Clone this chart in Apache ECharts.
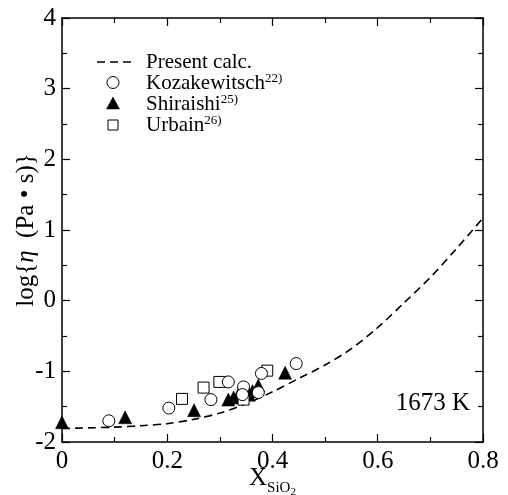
<!DOCTYPE html>
<html>
<head>
<meta charset="utf-8">
<script src="https://cdn.jsdelivr.net/npm/echarts@6/dist/echarts.min.js"></script>
<style>
  html, body { margin: 0; padding: 0; background: #fff; }
  #chart { width: 508px; height: 495px; }
</style>
</head>
<body>
<div id="chart"></div>
<script>
// Calculated viscosity curve, log(eta / Pa s) against SiO2 mole fraction
const calcX = [0, 0.05, 0.1, 0.15, 0.2, 0.25, 0.3, 0.35, 0.4, 0.45, 0.5, 0.55, 0.6, 0.65, 0.7, 0.75, 0.8];
const calcY = [-1.81, -1.80, -1.79, -1.77, -1.74, -1.68, -1.59, -1.46, -1.29, -1.10, -0.91, -0.68, -0.38, -0.03, 0.33, 0.74, 1.17];

// Measured data
const kozakX = [0.089, 0.203, 0.283, 0.316, 0.345, 0.343, 0.373, 0.379, 0.445];
const kozakY = [-1.70, -1.52, -1.40, -1.15, -1.22, -1.33, -1.30, -1.03, -0.89];

const shiraishiX = [0, 0.12, 0.251, 0.316, 0.326, 0.335, 0.345, 0.355, 0.362, 0.373, 0.424];
const shiraishiY = [-1.72, -1.65, -1.55, -1.40, -1.37, -1.33, -1.30, -1.33, -1.28, -1.20, -1.02];

const urbainX = [0.228, 0.269, 0.299, 0.345, 0.390];
const urbainY = [-1.39, -1.23, -1.15, -1.40, -0.99];

// Axis ticks
const xMin = 0, xMax = 0.8, xStep = 0.2;
const yMin = -2, yMax = 4, yStep = 1;

const serif = 'Liberation Serif';
const zip = (xs, ys) => xs.map((x, i) => [x, ys[i]]);

const chart = echarts.init(document.getElementById('chart'), null, { renderer: 'canvas' });

const axisCommon = {
  nameMoveOverlap: false,
  axisLine: { show: true, onZero: false, lineStyle: { color: '#000', width: 1.5 } },
  axisTick: { show: true, inside: true, length: 8, lineStyle: { color: '#000', width: 1.2 } },
  minorTick: { show: true, splitNumber: 2, length: 5, lineStyle: { color: '#000', width: 1.2 } },
  splitLine: { show: false },
  minorSplitLine: { show: false }
};

const supRich = { sup: { fontFamily: serif, fontSize: 13, fill: '#000', verticalAlign: 'top' } };

chart.setOption({
  animation: false,
  backgroundColor: '#fff',
  grid: { left: 62, right: 25, top: 18, bottom: 53, containLabel: false, outerBoundsMode: 'none' },
  xAxis: [
    Object.assign({
      type: 'value', min: xMin, max: xMax, interval: xStep,
      axisLabel: { color: '#000', fontFamily: serif, fontSize: 25, margin: 7 },
      name: '{x|X}{s|SiO}{t|2}',
      nameLocation: 'middle',
      nameGap: 24,
      nameTextStyle: {
        color: '#000', fontFamily: serif,
        rich: {
          x: { fontFamily: serif, fontSize: 25, color: '#000', verticalAlign: 'bottom', padding: [0, 0, 7, 0] },
          s: { fontFamily: serif, fontSize: 15, color: '#000', verticalAlign: 'bottom', padding: [0, 0, 2, 0] },
          t: { fontFamily: serif, fontSize: 11, color: '#000', verticalAlign: 'bottom', padding: [0, 0, 0, 0] }
        }
      }
    }, axisCommon),
    Object.assign({
      type: 'value', min: xMin, max: xMax, interval: xStep, position: 'top',
      axisLabel: { show: false }
    }, axisCommon)
  ],
  yAxis: [
    Object.assign({
      type: 'value', min: yMin, max: yMax, interval: yStep,
      axisLabel: { color: '#000', fontFamily: serif, fontSize: 25, margin: 6 },
      name: 'log{{it|η}  (Pa • s)}',
      nameLocation: 'middle',
      nameGap: 23,
      nameTextStyle: {
        color: '#000', fontFamily: serif, fontSize: 25,
        rich: { it: { fontFamily: serif, fontSize: 25, fontStyle: 'italic', color: '#000' } }
      }
    }, axisCommon),
    Object.assign({
      type: 'value', min: yMin, max: yMax, interval: yStep, position: 'right',
      axisLabel: { show: false }
    }, axisCommon)
  ],
  series: [
    {
      name: 'Present calc.', type: 'line', data: zip(calcX, calcY),
      smooth: 0.3, symbol: 'none', z: 2,
      lineStyle: { color: '#000', width: 1.6, type: [8, 5] }
    },
    {
      name: 'Shiraishi', type: 'scatter', data: zip(shiraishiX, shiraishiY),
      symbol: 'triangle', symbolSize: 13, z: 3,
      itemStyle: { color: '#000', borderColor: '#000', borderWidth: 0.5, opacity: 1 }
    },
    {
      name: 'Urbain', type: 'scatter', data: zip(urbainX, urbainY),
      symbol: 'rect', symbolSize: 11, z: 4,
      itemStyle: { color: '#fff', borderColor: '#000', borderWidth: 1, opacity: 1 }
    },
    {
      name: 'Kozakewitsch', type: 'scatter', data: zip(kozakX, kozakY),
      symbol: 'circle', symbolSize: 12, z: 5,
      itemStyle: { color: '#fff', borderColor: '#000', borderWidth: 1, opacity: 1 }
    }
  ],
  graphic: [
    // key
    { type: 'line', shape: { x1: 97, y1: 62, x2: 136, y2: 62 },
      style: { stroke: '#000', lineWidth: 1.6, lineDash: [8, 5] } },
    { type: 'circle', shape: { cx: 113, cy: 82.5, r: 6 },
      style: { fill: '#fff', stroke: '#000', lineWidth: 1 } },
    { type: 'polygon', shape: { points: [[113, 97], [119.5, 109], [106.5, 109]] },
      style: { fill: '#000', stroke: '#000', lineWidth: 0.5 } },
    { type: 'rect', shape: { x: 108, y: 120, width: 10, height: 10 },
      style: { fill: '#fff', stroke: '#000', lineWidth: 1 } },
    { type: 'text', x: 146, y: 62,
      style: { text: 'Present calc.', fontFamily: serif, fontSize: 21, fill: '#000', verticalAlign: 'middle' } },
    { type: 'text', x: 146, y: 83,
      style: { text: 'Kozakewitsch{sup|22)}', fontFamily: serif, fontSize: 21, fill: '#000', verticalAlign: 'middle', rich: supRich } },
    { type: 'text', x: 146, y: 104,
      style: { text: 'Shiraishi{sup|25)}', fontFamily: serif, fontSize: 21, fill: '#000', verticalAlign: 'middle', rich: supRich } },
    { type: 'text', x: 146, y: 125,
      style: { text: 'Urbain{sup|26)}', fontFamily: serif, fontSize: 21, fill: '#000', verticalAlign: 'middle', rich: supRich } },
    // temperature
    { type: 'text', x: 470, y: 403,
      style: { text: '1673 K', fontFamily: serif, fontSize: 25, fill: '#000', align: 'right', verticalAlign: 'middle' } }
  ]
});
</script>
</body>
</html>
